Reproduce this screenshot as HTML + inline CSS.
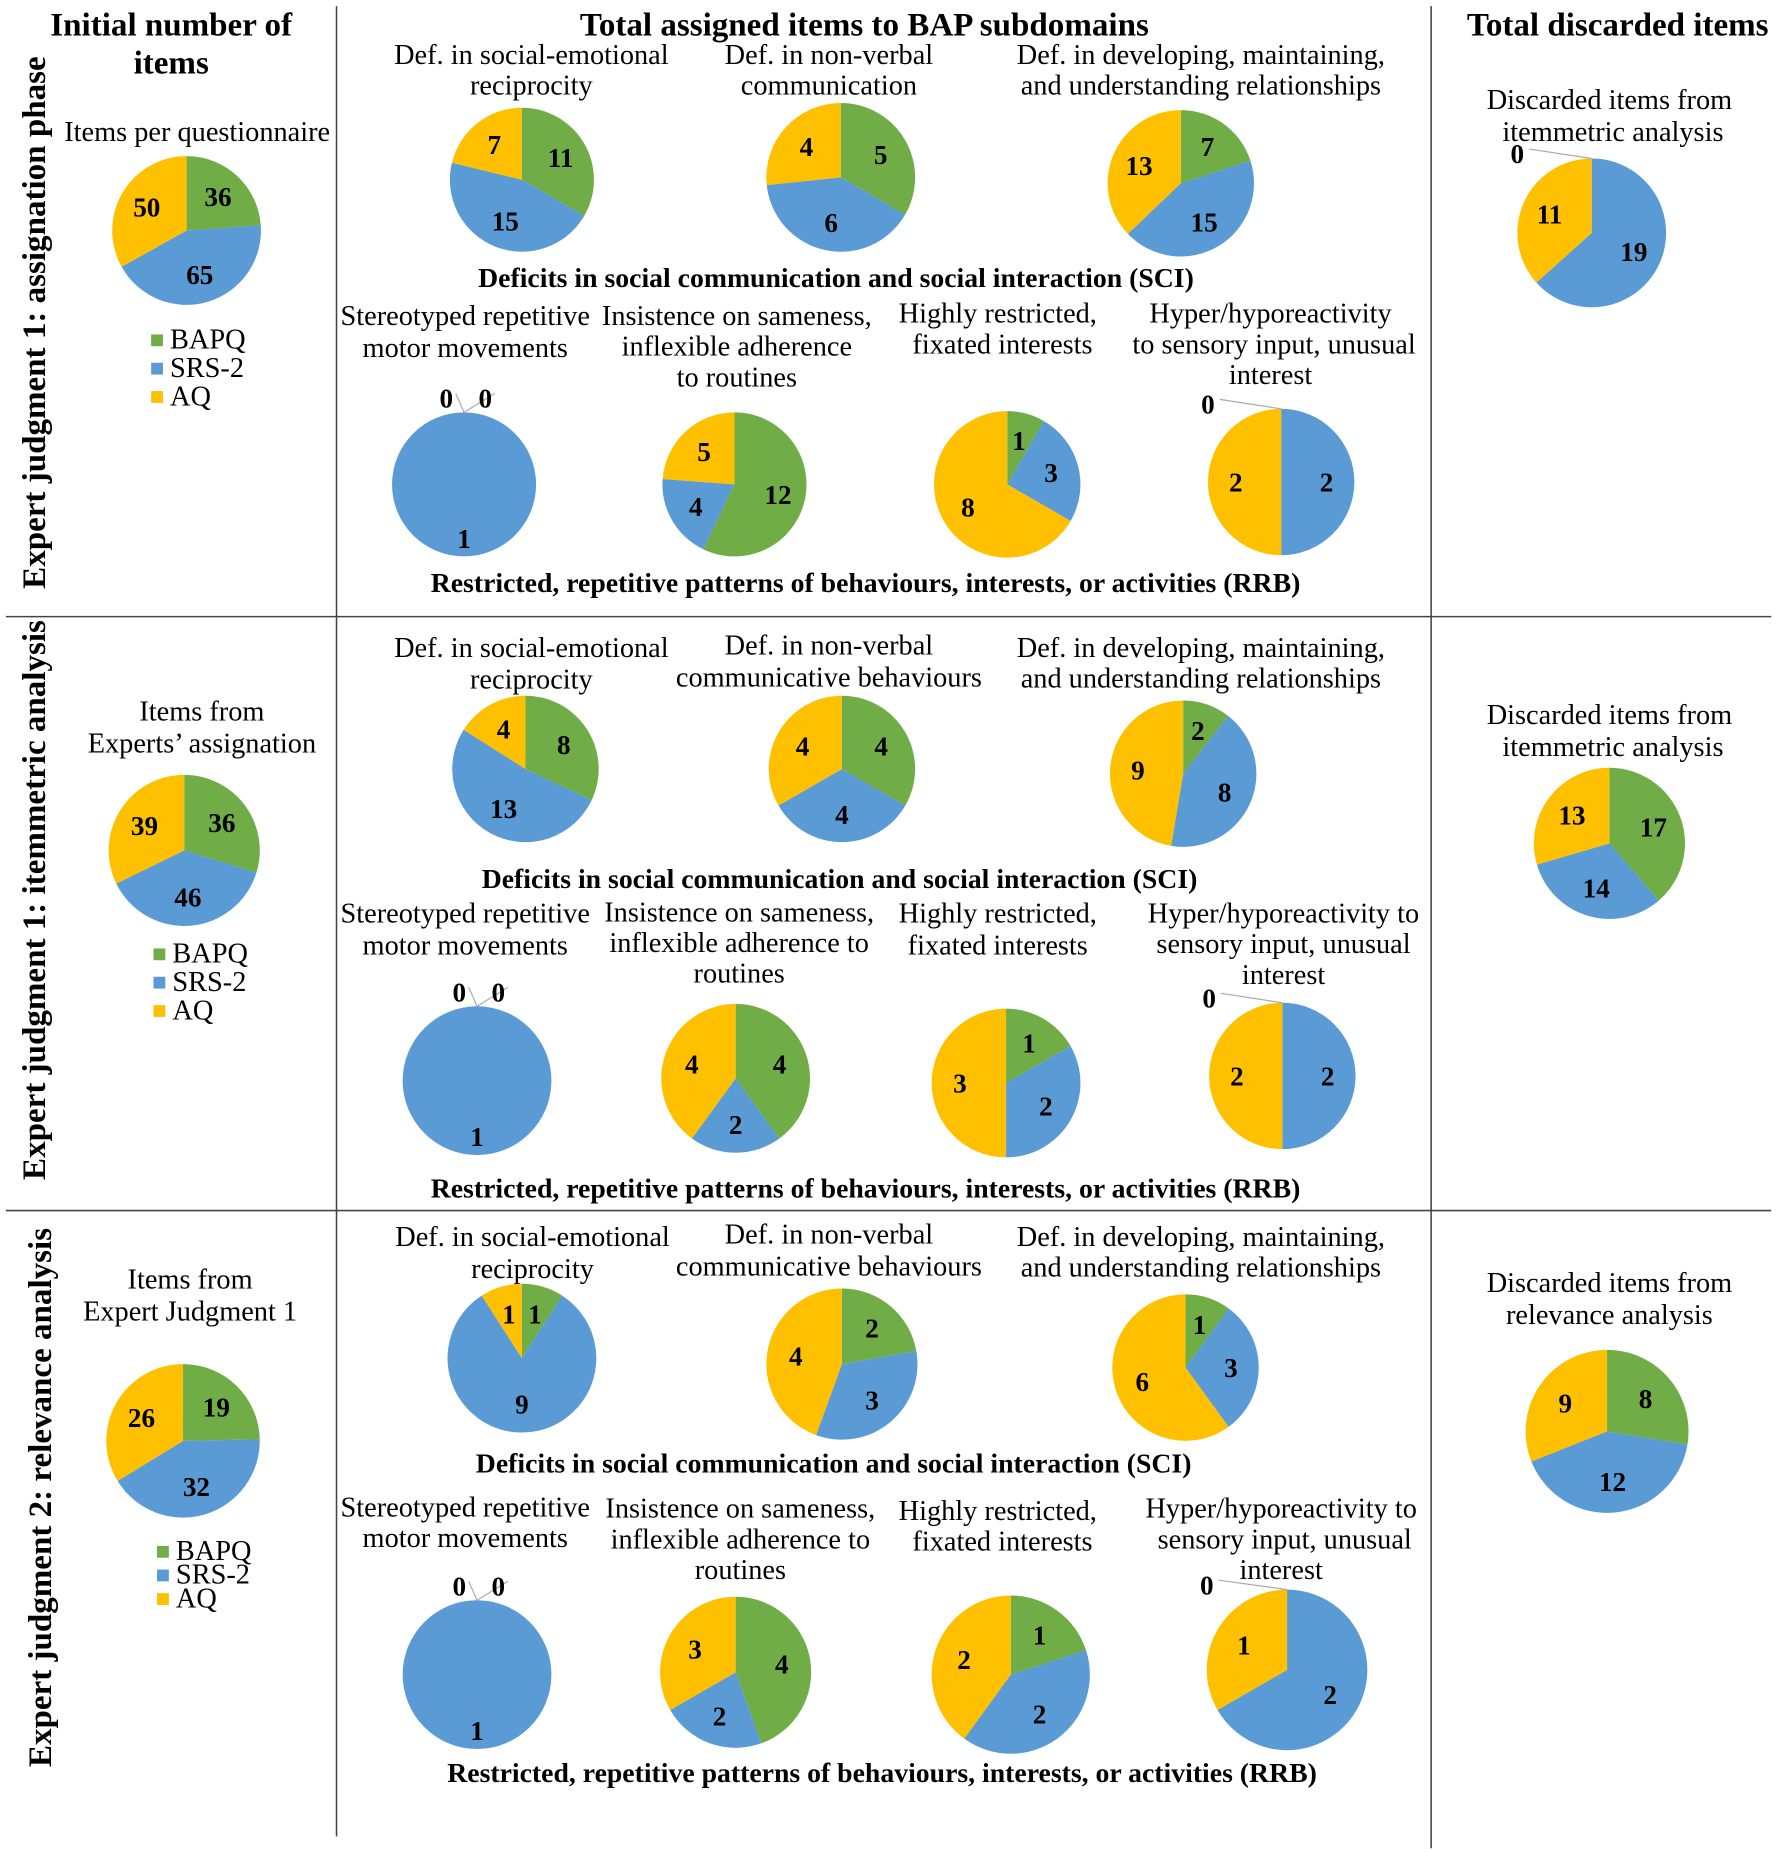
<!DOCTYPE html>
<html><head><meta charset="utf-8"><style>
html,body{margin:0;padding:0;background:#fff;width:1783px;height:1852px;overflow:hidden}
svg{display:block}
text{font-family:"Liberation Serif",serif;fill:#000}
.t{font-size:24px}
.h{font-size:28px;font-weight:bold}
.b{font-size:23.5px;font-weight:bold}
.v{font-size:23px;font-weight:bold}
</style></head><body>
<svg id="chart" width="1783" height="1852" viewBox="0 0 1510 1568" xmlns="http://www.w3.org/2000/svg">
<g stroke="#444" stroke-width="1.3">
<line x1="285" y1="5" x2="285" y2="1555"/>
<line x1="1212" y1="5" x2="1212" y2="1565"/>
<line x1="5" y1="522" x2="1500" y2="522"/>
<line x1="5" y1="1025" x2="1500" y2="1025"/>
</g>
<g>
<text class="h" transform="translate(38,273) rotate(-90)" text-anchor="middle">Expert judgment 1: assignation phase</text>
<text class="h" transform="translate(38,762) rotate(-90)" text-anchor="middle">Expert judgment 1: itemmetric analysis</text>
<text class="h" transform="translate(43,1268) rotate(-90)" text-anchor="middle">Expert judgment 2: relevance analysis</text>
</g>
<g>
<text class="h" x="145" y="30" text-anchor="middle">Initial number of</text>
<text class="h" x="145" y="62" text-anchor="middle">items</text>
<text class="h" x="732" y="30" text-anchor="middle">Total assigned items to BAP subdomains</text>
<text class="h" x="1370" y="30" text-anchor="middle">Total discarded items</text>
</g>
<g id="labels">
<text class="t" x="167" y="119" text-anchor="middle">Items per questionnaire</text>
<text class="t" x="450" y="54" text-anchor="middle">Def. in social-emotional</text><text class="t" x="450" y="80" text-anchor="middle">reciprocity</text>
<text class="t" x="702" y="54" text-anchor="middle">Def. in non-verbal</text><text class="t" x="702" y="80" text-anchor="middle">communication</text>
<text class="t" x="1017" y="54" text-anchor="middle">Def. in developing, maintaining,</text><text class="t" x="1017" y="80" text-anchor="middle">and understanding relationships</text>
<text class="t" x="1363" y="92" text-anchor="middle">Discarded items from</text><text class="t" x="1366" y="119" text-anchor="middle">itemmetric analysis</text>
<text class="b" x="708" y="243" text-anchor="middle">Deficits in social communication and social interaction (SCI)</text>
<text class="t" x="394" y="275" text-anchor="middle">Stereotyped repetitive</text><text class="t" x="394" y="302" text-anchor="middle">motor movements</text>
<text class="t" x="624" y="275" text-anchor="middle">Insistence on sameness,</text><text class="t" x="624" y="301" text-anchor="middle">inflexible adherence</text><text class="t" x="624" y="327" text-anchor="middle">to routines</text>
<text class="t" x="845" y="273" text-anchor="middle">Highly restricted,</text><text class="t" x="849" y="299" text-anchor="middle">fixated interests</text>
<text class="t" x="1076" y="273" text-anchor="middle">Hyper/hyporeactivity</text><text class="t" x="1079" y="299" text-anchor="middle">to sensory input, unusual</text><text class="t" x="1076" y="325" text-anchor="middle">interest</text>
<text class="b" x="733" y="501" text-anchor="middle">Restricted, repetitive patterns of behaviours, interests, or activities (RRB)</text>

<text class="t" x="171" y="610" text-anchor="middle">Items from</text><text class="t" x="171" y="637" text-anchor="middle">Experts’ assignation</text>
<text class="t" x="450" y="556" text-anchor="middle">Def. in social-emotional</text><text class="t" x="450" y="583" text-anchor="middle">reciprocity</text>
<text class="t" x="702" y="554" text-anchor="middle">Def. in non-verbal</text><text class="t" x="702" y="581" text-anchor="middle">communicative behaviours</text>
<text class="t" x="1017" y="556" text-anchor="middle">Def. in developing, maintaining,</text><text class="t" x="1017" y="582" text-anchor="middle">and  understanding relationships</text>
<text class="t" x="1363" y="613" text-anchor="middle">Discarded items from</text><text class="t" x="1366" y="640" text-anchor="middle">itemmetric analysis</text>
<text class="b" x="711" y="752" text-anchor="middle">Deficits in social communication and social  interaction (SCI)</text>
<text class="t" x="394" y="781" text-anchor="middle">Stereotyped repetitive</text><text class="t" x="394" y="808" text-anchor="middle">motor movements</text>
<text class="t" x="626" y="780" text-anchor="middle">Insistence on sameness,</text><text class="t" x="626" y="806" text-anchor="middle">inflexible adherence to</text><text class="t" x="626" y="832" text-anchor="middle">routines</text>
<text class="t" x="845" y="781" text-anchor="middle">Highly restricted,</text><text class="t" x="845" y="808" text-anchor="middle">fixated interests</text>
<text class="t" x="1087" y="781" text-anchor="middle">Hyper/hyporeactivity to</text><text class="t" x="1087" y="807" text-anchor="middle">sensory input, unusual</text><text class="t" x="1087" y="833" text-anchor="middle">interest</text>
<text class="b" x="733" y="1014" text-anchor="middle">Restricted, repetitive patterns of behaviours, interests, or activities (RRB)</text>

<text class="t" x="161" y="1091" text-anchor="middle">Items from</text><text class="t" x="161" y="1118" text-anchor="middle">Expert Judgment 1</text>
<text class="t" x="451" y="1055" text-anchor="middle">Def. in social-emotional</text><text class="t" x="451" y="1082" text-anchor="middle">reciprocity</text>
<text class="t" x="702" y="1053" text-anchor="middle">Def. in non-verbal</text><text class="t" x="702" y="1080" text-anchor="middle">communicative behaviours</text>
<text class="t" x="1017" y="1055" text-anchor="middle">Def. in developing, maintaining,</text><text class="t" x="1017" y="1081" text-anchor="middle">and understanding relationships</text>
<text class="t" x="1363" y="1094" text-anchor="middle">Discarded items from</text><text class="t" x="1363" y="1121" text-anchor="middle">relevance analysis</text>
<text class="b" x="706" y="1247" text-anchor="middle">Deficits in social communication and social interaction (SCI)</text>
<text class="t" x="394" y="1284" text-anchor="middle">Stereotyped repetitive</text><text class="t" x="394" y="1310" text-anchor="middle">motor movements</text>
<text class="t" x="627" y="1285" text-anchor="middle">Insistence on sameness,</text><text class="t" x="627" y="1311" text-anchor="middle">inflexible adherence to</text><text class="t" x="627" y="1337" text-anchor="middle">routines</text>
<text class="t" x="845" y="1287" text-anchor="middle">Highly restricted,</text><text class="t" x="849" y="1313" text-anchor="middle">fixated interests</text>
<text class="t" x="1085" y="1285" text-anchor="middle">Hyper/hyporeactivity to</text><text class="t" x="1088" y="1311" text-anchor="middle">sensory input, unusual</text><text class="t" x="1085" y="1337" text-anchor="middle">interest</text>
<text class="b" x="747" y="1509" text-anchor="middle">Restricted, repetitive patterns of behaviours, interests, or activities (RRB)</text>
</g>
<g id="legends"></g>
<g id="pies"></g>
</svg>
<script>
const seriesNames = ["BAPQ","SRS-2","AQ"];
const colors = ["#70ad47","#5b9bd5","#ffc000"];
const pieNames = ["r1-initial","r1-sci-reciprocity","r1-sci-nonverbal","r1-sci-relationships","r1-discarded","r1-rrb-motor","r1-rrb-sameness","r1-rrb-interests","r1-rrb-sensory",
"r2-initial","r2-sci-reciprocity","r2-sci-nonverbal","r2-sci-relationships","r2-discarded","r2-rrb-motor","r2-rrb-sameness","r2-rrb-interests","r2-rrb-sensory",
"r3-initial","r3-sci-reciprocity","r3-sci-nonverbal","r3-sci-relationships","r3-discarded","r3-rrb-motor","r3-rrb-sameness","r3-rrb-interests","r3-rrb-sensory"];
const bapqValues = [36,11,5,7,0,0,12,1,0, 36,8,4,2,17,0,4,1,0, 19,1,2,1,8,0,4,1,0];
const srsValues  = [65,15,6,15,19,1,4,3,2, 46,13,4,8,14,1,2,2,2, 32,9,3,3,12,1,2,2,2];
const aqValues   = [50,7,4,13,11,0,5,8,2, 39,4,4,9,13,0,4,3,2, 26,1,4,6,9,0,3,2,1];
const pieLayout = [[158,195,63],[442,152,61],[712,150,63],[1000,155,62],[1348,197,63],[393,410,61],[622,410,61],[853,410,62],[1085,408,62],
[156,720,64],[445,651,62],[713,651,62],[1002,655,62],[1363,714,64],[404,915,63],[623,913,63],[852,917,63],[1086,911,62],
[155,1220,65],[442,1150,63],[713,1155,64],[1004,1158,62],[1361,1212,69],[404,1418,63],[623,1416,64],[856,1418,67],[1090,1414,68]];
const NS="http://www.w3.org/2000/svg";
const pg=document.getElementById('pies');
function mk(t,a,p){const e=document.createElementNS(NS,t);for(const k in a)e.setAttribute(k,a[k]);p.appendChild(e);return e;}
pieNames.forEach((nm,i)=>{
  const vals=[bapqValues[i],srsValues[i],aqValues[i]];
  const [cx,cy,r]=pieLayout[i];
  const tot=vals.reduce((a,b)=>a+b,0);
  const g=mk('g',{},pg);
  
  
  let a0=0;const zeros=[];
  vals.forEach((v,k)=>{
    if(v===0){zeros.push(k);return;}
    const a1=a0+v/tot*2*Math.PI;
    let el;
    if(v===tot){el=mk('circle',{cx,cy,r,fill:colors[k]},g);}
    else{
      const x0=cx+r*Math.sin(a0),y0=cy-r*Math.cos(a0),x1=cx+r*Math.sin(a1),y1=cy-r*Math.cos(a1);
      el=mk('path',{d:`M${cx},${cy}L${x0},${y0}A${r},${r} 0 ${a1-a0>Math.PI?1:0} 1 ${x1},${y1}Z`,fill:colors[k]},g);
    }
    
    
    const am=(a0+a1)/2, lr=v===tot?0.75*r:0.62*r;
    const lx=v===tot?cx:cx+lr*Math.sin(am), ly=v===tot?cy+lr:cy-lr*Math.cos(am);
    const t=mk('text',{x:lx,y:ly+8,'text-anchor':'middle',class:'v'},g);
    t.textContent=v;
    
    
    a0=a1;
  });
  zeros.forEach((k,j)=>{
    let lx,ly;
    if(zeros.length===2){lx=cx+(j===0?-15:18);ly=cy-r-4;}
    else{lx=cx-r;ly=cy-r+4;}
    mk('line',{x1:lx+(zeros.length===2?8:10),y1:ly-12,x2:cx,y2:cy-r,stroke:'#aaa','stroke-width':1},g);
    const t=mk('text',{x:lx,y:ly,'text-anchor':'middle',class:'v'},g);
    t.textContent='0';
    
    
  });
});
const lg=document.getElementById('legends');
[[128,295],[130,815],[133,1321]].forEach((p,li)=>{
  seriesNames.forEach((s,k)=>{
    const y=p[1]+k*(li===2?20:24);
    const g=mk('g',{},lg);
    
    
    mk('rect',{x:p[0],y:y-12,width:10,height:10,fill:colors[k]},g);
    const t=mk('text',{x:p[0]+16,y:y,class:'t'},g);
    t.textContent=s;
  });
});
</script>
</body></html>
